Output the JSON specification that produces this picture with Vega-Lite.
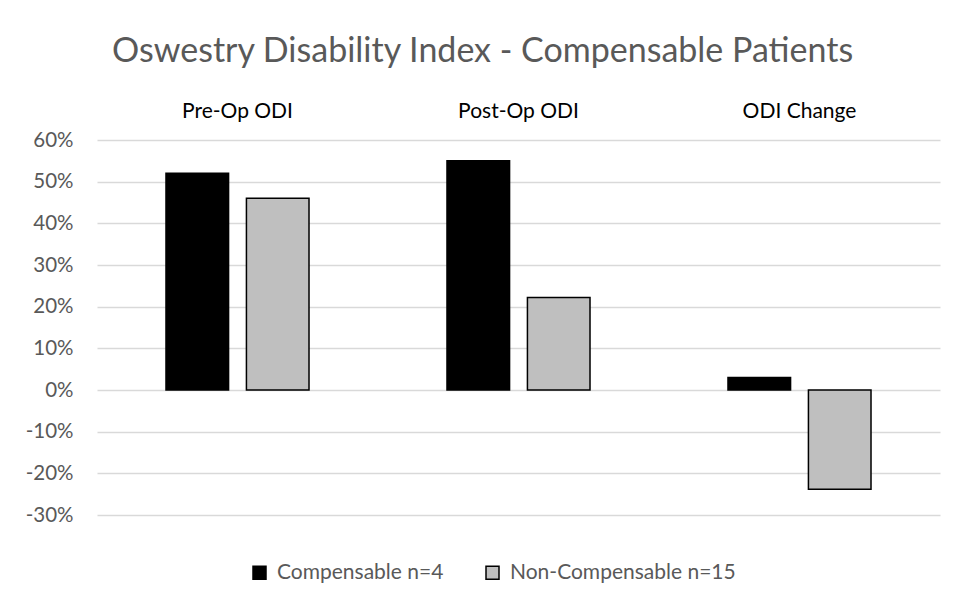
{
  "$schema": "https://vega.github.io/schema/vega-lite/v6.json",
  "autosize": "none",
  "width": 843,
  "height": 375,
  "padding": {"left": 97, "top": 140, "right": 20, "bottom": 86},
  "background": "white",
  "title": {
    "text": "Oswestry Disability Index - Compensable Patients",
    "font": "Lato",
    "fontSize": 34,
    "fontWeight": "normal",
    "color": "#595959",
    "anchor": "middle",
    "frame": "bounds",
    "offset": 31
  },
  "data": {
    "values": [
      {"measure": "Pre-Op ODI", "group": "Compensable n=4", "value": 0.52},
      {"measure": "Pre-Op ODI", "group": "Non-Compensable n=15", "value": 0.46},
      {"measure": "Post-Op ODI", "group": "Compensable n=4", "value": 0.55},
      {"measure": "Post-Op ODI", "group": "Non-Compensable n=15", "value": 0.222},
      {"measure": "ODI Change", "group": "Compensable n=4", "value": 0.03},
      {"measure": "ODI Change", "group": "Non-Compensable n=15", "value": -0.238}
    ]
  },
  "mark": {"type": "bar", "strokeWidth": 1.5, "stroke": "black"},
  "encoding": {
    "x": {
      "field": "measure",
      "type": "nominal",
      "sort": ["Pre-Op ODI", "Post-Op ODI", "ODI Change"],
      "scale": {"paddingInner": 0.491, "paddingOuter": 0.2455},
      "axis": {
        "orient": "top",
        "title": null,
        "domain": false,
        "ticks": false,
        "labelAngle": 0,
        "labelFont": "Lato",
        "labelFontSize": 21,
        "labelColor": "#000000",
        "labelPadding": 19
      }
    },
    "xOffset": {
      "field": "group",
      "type": "nominal",
      "scale": {"paddingInner": 0.222, "paddingOuter": 0}
    },
    "y": {
      "field": "value",
      "type": "quantitative",
      "scale": {"domain": [-0.3, 0.6], "nice": false, "zero": true},
      "axis": {
        "title": null,
        "labelExpr": "replace(format(datum.value, '.0%'), '\u2212', '-')",
        "values": [-0.3, -0.2, -0.1, 0, 0.1, 0.2, 0.3, 0.4, 0.5, 0.6],
        "domain": false,
        "ticks": false,
        "labelFont": "Lato",
        "labelFontSize": 20.5,
        "labelColor": "#595959",
        "labelPadding": 24,
        "gridColor": "#D9D9D9",
        "gridWidth": 1.5
      }
    },
    "fill": {
      "field": "group",
      "type": "nominal",
      "scale": {"domain": ["Compensable n=4", "Non-Compensable n=15"], "range": ["#000000", "#BFBFBF"]},
      "legend": {
        "title": null,
        "orient": "none",
        "legendX": 152,
        "legendY": 422,
        "direction": "horizontal",
        "symbolType": "square",
        "symbolSize": 169,
        "symbolStrokeColor": "#000000",
        "symbolStrokeWidth": 1.5,
        "labelFont": "Lato",
        "labelFontSize": 21,
        "labelColor": "#595959",
        "labelLimit": 0,
        "columnPadding": 38,
        "labelOffset": 7
      }
    }
  },
  "config": {
    "view": {"stroke": null}
  }
}
